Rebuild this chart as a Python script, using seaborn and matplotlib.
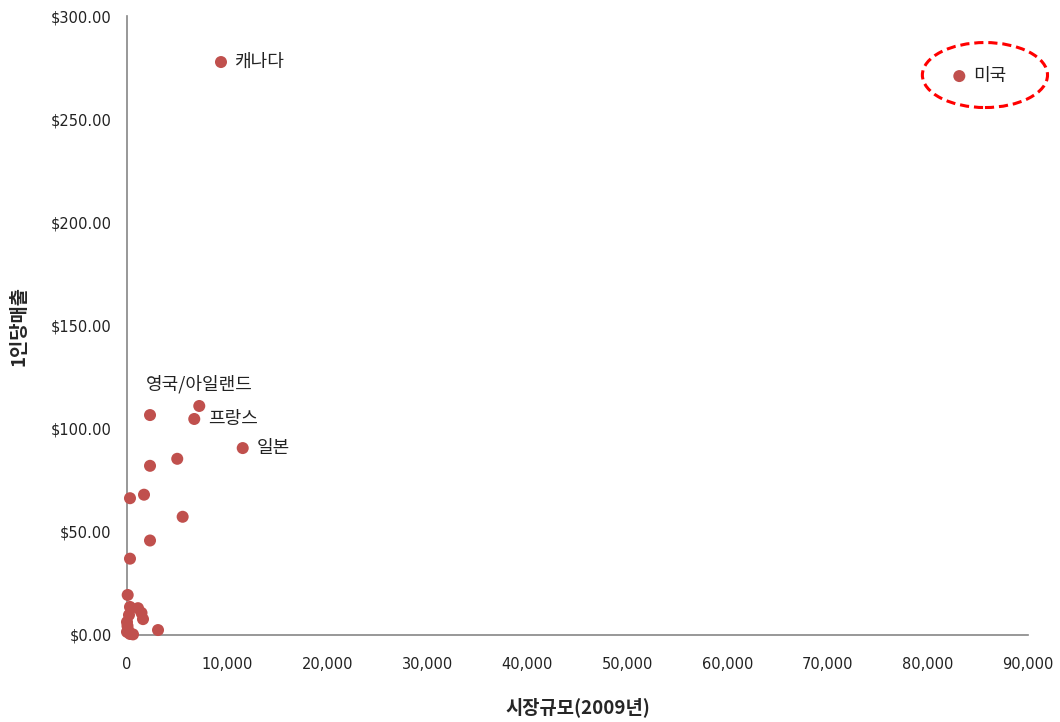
import numpy as np
import pandas as pd
import matplotlib
matplotlib.use('Agg')
import matplotlib.pyplot as plt
import seaborn as sns
from matplotlib.patches import Ellipse
from matplotlib.ticker import FuncFormatter

# market size (2009) vs. per-capita sales
market_size = [83140, 9390, 7220, 6720, 11560, 5020, 2300, 2300, 1700, 300,
               5560, 2300, 300, 70, 300, 1100, 1450, 1600, 200, 0, 50,
               3100, 100, 0, 300, 600]
per_capita = [270.9, 277.7, 111.0, 104.7, 90.6, 85.4, 106.6, 82.0, 68.0, 66.3,
              57.3, 45.8, 37.0, 19.4, 13.6, 13.0, 10.7, 7.7, 9.7, 6.3, 4.4,
              2.4, 2.5, 1.5, 0.5, 0.3]
country = ['미국', '캐나다', '영국/아일랜드', '프랑스', '일본'] + [''] * 21

df = pd.DataFrame({'size': market_size, 'sales': per_capita, 'country': country})

sns.set_style('white')
plt.rcParams['font.family'] = ['Noto Sans CJK KR', 'DejaVu Sans']

fig = plt.figure(figsize=(10.6, 7.22), dpi=100)
ax = fig.add_axes([0.1198, 0.1205, 0.85, 0.8573])

sns.scatterplot(data=df, x='size', y='sales', color='#C0504D', s=75,
                edgecolor='none', ax=ax, zorder=3, clip_on=False)

# data labels
label_offsets = {'미국': (10, 0, 'left', 'center'),
                 '캐나다': (10, 0, 'left', 'center'),
                 '프랑스': (10, 0, 'left', 'center'),
                 '일본': (10, 0, 'left', 'center'),
                 '영국/아일랜드': (0, 9, 'center', 'bottom')}
for _, r in df[df['country'] != ''].iterrows():
    dx, dy, ha, va = label_offsets[r['country']]
    ax.annotate(r['country'], (r['size'], r['sales']), xytext=(dx, dy),
                textcoords='offset points', ha=ha, va=va, fontsize=13,
                color='#222222', annotation_clip=False)

# highlight ellipse around the US
ax.add_patch(Ellipse((85700, 271.4), 12500, 31.5, fill=False,
                     edgecolor='#FF0000', lw=2.2, ls=(0, (3, 1.6)), zorder=4,
                     clip_on=False))

ax.set_xlim(0, 90000)
ax.set_ylim(0, 300)
ax.set_xticks(np.arange(0, 90001, 10000))
ax.set_yticks(np.arange(0, 301, 50))
ax.xaxis.set_major_formatter(FuncFormatter(lambda v, p: f'{int(v):,}'))
ax.yaxis.set_major_formatter(FuncFormatter(lambda v, p: f'${v:,.2f}'))
ax.tick_params(axis='both', which='major', direction='out', length=5,
               width=1, color='#868686', labelsize=10.5, labelcolor='#222222',
               labelfontfamily='DejaVu Sans')
ax.tick_params(axis='x', pad=11)
ax.tick_params(axis='y', pad=6)

for side in ['top', 'right']:
    ax.spines[side].set_visible(False)
for side in ['left', 'bottom']:
    ax.spines[side].set_color('#868686')
    ax.spines[side].set_linewidth(1.2)

ax.set_xlabel('시장규모(2009년)', fontsize=13.5, fontweight='bold', labelpad=18)
ax.set_ylabel('1인당매출', fontsize=13.5, fontweight='bold', labelpad=16)

fig.savefig('out.png', dpi=100)
plt.close(fig)
